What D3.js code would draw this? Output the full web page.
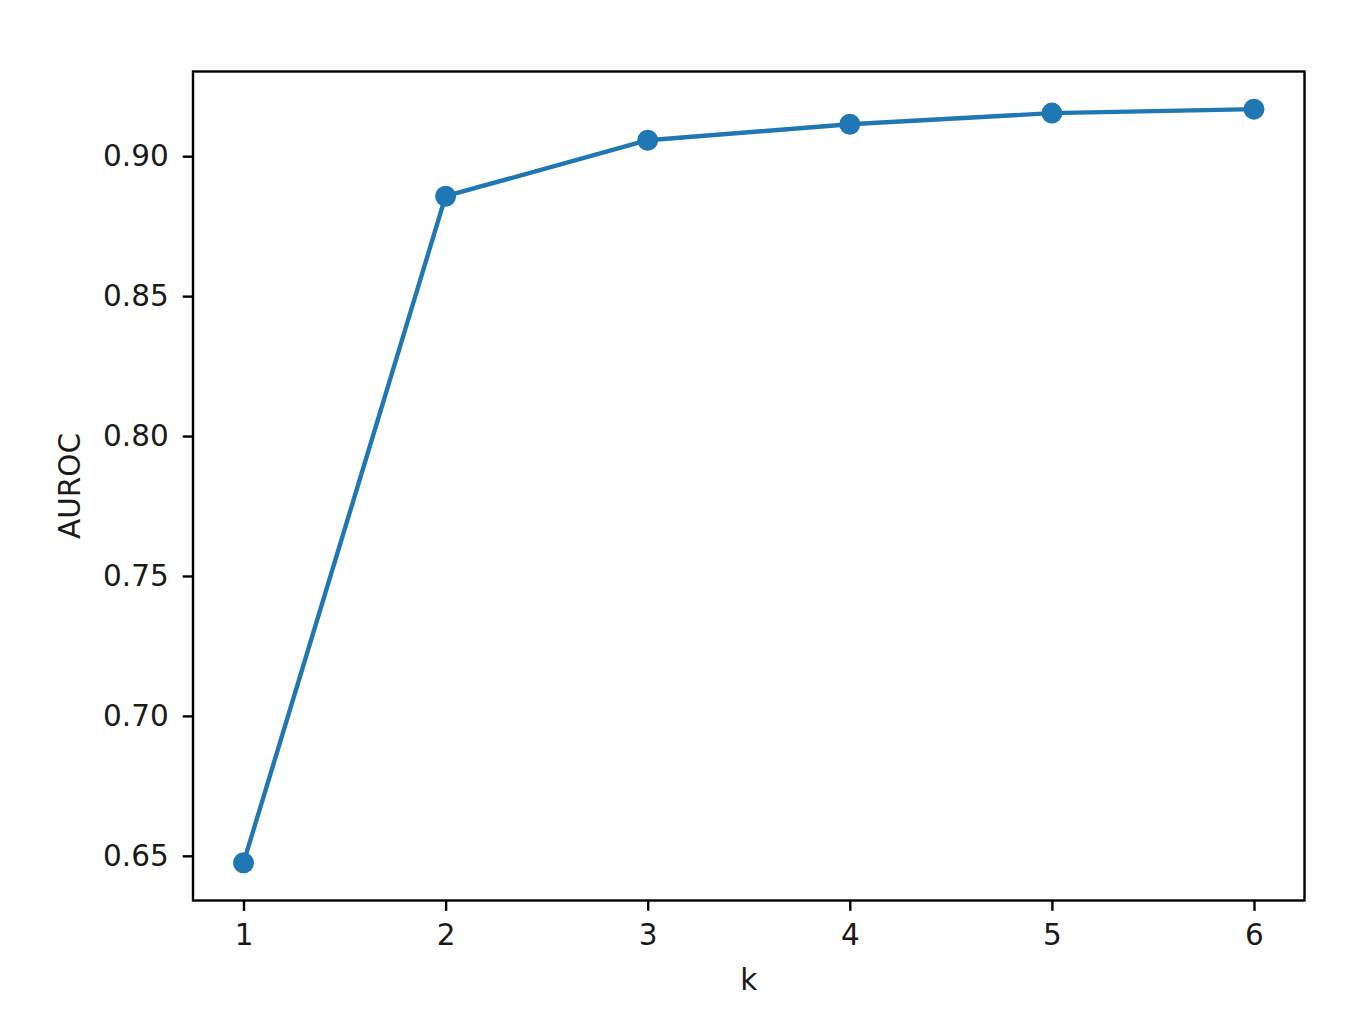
<!DOCTYPE html>
<html>
<head>
<meta charset="utf-8">
<script src="https://cdn.jsdelivr.net/npm/d3@7"></script>
<style>
  body { margin: 0; background: #fff; }
  svg { display: block; }
</style>
</head>
<body>
<div id="chart"></div>
<script>
const kValues = [1, 2, 3, 4, 5, 6];
const aurocValues = [0.6475, 0.8857, 0.9057, 0.9114, 0.9154, 0.9168];
const yTicks = [0.65, 0.70, 0.75, 0.80, 0.85, 0.90];
const xTicks = [1, 2, 3, 4, 5, 6];

const width = 1359, height = 1021;
const margin = { left: 193, right: 1359 - 1304.5, top: 71.5, bottom: 1021 - 900.5 };
const color = '#1f77b4';
const fontSize = 29.5;

const svg = d3.select('#chart').append('svg')
  .attr('width', width)
  .attr('height', height)
  .attr('font-family', '"DejaVu Sans", sans-serif');

// matplotlib-style 5% padding
const xMin = d3.min(kValues), xMax = d3.max(kValues);
const yMin = d3.min(aurocValues), yMax = d3.max(aurocValues);
const xPad = (xMax - xMin) * 0.05, yPad = (yMax - yMin) * 0.05;

const x = d3.scaleLinear()
  .domain([xMin - xPad, xMax + xPad])
  .range([margin.left, width - margin.right]);
const y = d3.scaleLinear()
  .domain([yMin - yPad, yMax + yPad])
  .range([height - margin.bottom, margin.top]);

const data = kValues.map((k, i) => ({ k, v: aurocValues[i] }));

const line = d3.line()
  .x(d => x(d.k))
  .y(d => y(d.v));

svg.append('path')
  .datum(data)
  .attr('d', line)
  .attr('fill', 'none')
  .attr('stroke', color)
  .attr('stroke-width', 4.4)
  .attr('stroke-linejoin', 'round')
  .attr('stroke-linecap', 'square');

svg.append('g')
  .selectAll('circle')
  .data(data)
  .enter().append('circle')
  .attr('cx', d => x(d.k))
  .attr('cy', d => y(d.v))
  .attr('r', 10.5)
  .attr('fill', color);

// axes
const xAxis = d3.axisBottom(x)
  .tickValues(xTicks)
  .tickFormat(d3.format('d'))
  .tickSizeInner(10.3)
  .tickSizeOuter(0)
  .tickPadding(13);
const yAxis = d3.axisLeft(y)
  .tickValues(yTicks)
  .tickFormat(d3.format('.2f'))
  .tickSizeInner(10.3)
  .tickSizeOuter(0)
  .tickPadding(14);

const gx = svg.append('g')
  .attr('transform', `translate(0,${height - margin.bottom})`)
  .call(xAxis);
const gy = svg.append('g')
  .attr('transform', `translate(${margin.left},0)`)
  .call(yAxis);

[gx, gy].forEach(g => {
  g.select('.domain').remove();
  g.selectAll('.tick line').attr('stroke', '#000').attr('stroke-width', 2.4);
  g.selectAll('.tick text')
    .attr('fill', '#1a1a1a')
    .style('font-size', fontSize + 'px')
    .attr('font-family', '"DejaVu Sans", sans-serif');
});

// frame
svg.append('rect')
  .attr('x', margin.left)
  .attr('y', margin.top)
  .attr('width', width - margin.right - margin.left)
  .attr('height', height - margin.bottom - margin.top)
  .attr('fill', 'none')
  .attr('stroke', '#000')
  .attr('stroke-width', 2.4);

// labels
svg.append('text')
  .text('k')
  .attr('x', (margin.left + width - margin.right) / 2)
  .attr('y', 990)
  .attr('text-anchor', 'middle')
  .attr('fill', '#1a1a1a')
  .style('font-size', fontSize + 'px');

svg.append('text')
  .text('AUROC')
  .attr('transform', `translate(80,${(margin.top + height - margin.bottom) / 2}) rotate(-90)`)
  .attr('text-anchor', 'middle')
  .attr('fill', '#1a1a1a')
  .style('font-size', fontSize + 'px');
</script>
</body>
</html>
